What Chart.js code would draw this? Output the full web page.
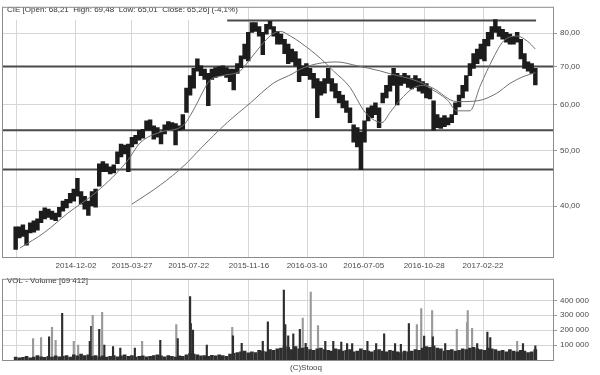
<!DOCTYPE html>
<html>
<head>
<meta charset="utf-8">
<script src="https://cdn.jsdelivr.net/npm/chart.js@4/dist/chart.umd.min.js"></script>
<style>
body { margin: 0; background: #fff; width: 600px; height: 375px; overflow: hidden; position: relative; }
canvas { position: absolute; left: 0; }
#priceChart { top: 0; }
#volChart { top: 272px; }
</style>
</head>
<body>
<canvas id="priceChart" width="600" height="272"></canvas>
<canvas id="volChart" width="600" height="103"></canvas>
<script>
// x axis is in trading sessions, one price bar per week (5 sessions)
const xMin = -17.4, xMax = 739.3;
const weekStep = 5;
const tickSessions = [0.5, 83, 160, 238, 321, 401, 479, 562, 643];
const tickLabels = ['', '2014-12-02', '2015-03-27', '2015-07-22', '2015-11-16', '2016-03-10', '2016-07-05', '2016-10-28', '2017-02-22'];
const priceTicks = [40, 50, 60, 70, 80];
const volTicks = [100000, 200000, 300000, 400000];

const titleText = 'CIE [Open: 68,21  High: 69,48  Low: 65,01  Close: 65,26] (-4,1%)';
const volTitle = 'VOL - Volume [69 412]';

// weekly high / low
const priceHigh = [
  36.8,36.8,37.1,36.3,37.4,37.7,38.0,39.2,39.7,39.5,39.2,38.9,
  39.8,40.8,41.1,42.1,42.8,44.7,42.4,41.6,40.8,42.4,42.8,47.4,
  47.8,47.4,46.8,47.2,49.7,51.3,51.1,51.3,52.7,53.1,54.2,54.4,
  56.3,56.5,55.2,54.8,53.8,55.4,56.1,55.9,55.7,55.2,57.7,64.2,
  67.5,69.5,72.2,70.2,69.3,68.1,69.3,69.7,70.0,70.2,69.7,69.3,
  69.3,70.8,73.1,76.6,80.3,83.5,83.5,82.2,80.3,82.9,83.9,82.2,
  80.6,79.7,78.1,76.6,75.1,74.3,72.2,70.2,70.8,69.5,68.1,66.7,
  65.9,66.7,69.5,66.7,65.4,63.4,62.4,61.0,59.3,55.4,54.8,53.8,
  56.3,59.3,59.8,60.5,59.3,62.9,64.9,67.5,69.5,68.1,67.5,68.1,
  67.5,66.7,67.5,66.7,65.9,65.4,64.2,61.0,57.7,57.0,57.5,57.0,
  57.7,60.5,62.4,64.9,67.5,70.8,73.7,75.1,76.6,78.1,80.3,82.2,
  84.5,82.2,81.3,80.3,79.7,79.0,80.3,78.1,73.7,71.3,70.8,69.5
];
const priceLow = [
  33.6,35.2,35.4,34.2,35.9,36.0,36.3,37.4,38.0,38.2,37.9,37.7,
  38.3,39.2,39.7,40.5,40.8,41.6,40.3,39.5,38.5,40.0,39.8,43.3,
  45.9,45.9,45.5,45.7,47.4,48.7,49.3,45.9,50.7,51.3,52.1,52.5,
  54.2,54.2,52.3,52.7,51.3,53.4,54.2,54.2,51.1,54.2,54.4,58.2,
  62.4,64.2,68.7,67.5,66.5,59.8,66.5,67.0,67.5,67.5,67.0,65.9,
  63.7,68.1,69.7,72.2,71.6,80.3,80.6,79.1,73.4,79.7,81.3,79.1,
  76.6,76.6,73.7,70.8,71.3,70.2,65.9,67.5,67.5,66.5,64.2,57.0,
  62.4,62.9,65.4,63.4,61.7,60.5,59.3,58.2,55.9,51.7,50.7,46.3,
  51.7,56.3,57.0,57.7,54.8,60.5,61.7,63.4,64.9,60.0,64.9,65.4,
  64.4,64.0,64.4,63.4,62.9,61.7,61.5,54.2,54.8,54.6,55.0,55.4,
  55.9,57.7,59.5,61.7,63.4,67.5,69.5,70.8,72.2,71.6,76.0,78.1,
  80.3,79.0,78.1,77.2,76.6,76.6,77.2,72.2,69.5,68.7,68.1,65.0
];

// moving averages
const maShortSessions = [6, 40, 71, 112, 153, 171, 199, 230, 244, 258, 267, 285, 309, 323, 336, 353, 364, 378, 391, 419, 437, 460, 478, 490, 504, 515, 529, 547, 561, 574, 594, 607, 625, 639, 657, 671, 690, 704, 715];
const maShortValues = [33.8, 36.0, 38.8, 42.4, 47.8, 51.5, 53.8, 55.2, 58.6, 63.4, 66.2, 67.5, 68.8, 72.2, 75.7, 79.7, 80.6, 79.1, 77.2, 72.4, 68.8, 64.4, 58.9, 56.8, 55.9, 58.2, 61.2, 64.2, 64.9, 63.7, 61.2, 58.6, 58.6, 64.7, 72.4, 77.5, 79.1, 77.5, 75.1];
const maLongSessions = [160, 199, 233, 254, 291, 323, 354, 382, 391, 415, 442, 470, 501, 519, 547, 574, 607, 635, 662, 680, 698, 715];
const maLongValues = [40.3, 43.5, 47.2, 50.3, 55.9, 60.5, 65.4, 68.1, 69.2, 70.8, 71.3, 70.2, 68.8, 67.8, 66.4, 64.2, 60.8, 61.0, 62.9, 65.4, 67.2, 68.3];

// horizontal levels
const levelValues = [84.2, 70.0, 54.2, 46.3];
const levelFrom = [291, xMin, xMin, xMin];
const levelTo = [716, xMax, xMax, xMax];

// volume: weekly base (thousands) and single-session spikes
const volBase = [
  20,15,18,25,15,20,30,22,18,25,20,28,
  22,25,30,20,35,28,40,30,35,25,30,22,
  28,20,25,30,22,28,35,25,30,20,25,28,
  22,25,30,35,28,22,30,25,20,28,25,35,
  45,40,35,28,30,25,32,28,35,30,25,40,
  45,50,55,60,48,55,50,65,60,55,70,65,
  75,80,95,85,70,90,75,80,85,70,65,75,
  80,70,65,60,75,70,60,65,70,55,60,75,
  65,60,55,65,70,60,55,65,60,55,50,60,
  55,60,70,65,80,90,85,95,80,75,60,65,
  70,60,65,75,70,80,85,75,70,65,80,75,
  70,60,65,55,70,60,55,65,60,50,55,70
];
const spikeSession = [24, 35, 46, 50, 55, 64, 80, 86, 102, 104, 106, 115, 119, 122, 134, 144, 164, 174, 199, 221, 223, 240, 241, 244, 263, 298, 299, 311, 340, 347, 369, 371, 375, 382, 391, 395, 399, 406, 416, 426, 437, 448, 456, 463, 484, 496, 507, 522, 530, 541, 552, 558, 562, 573, 574, 591, 607, 621, 622, 628, 635, 649, 653, 690, 698, 715];
const spikeVolume = [144, 150, 156, 219, 131, 312, 125, 100, 125, 225, 300, 206, 319, 100, 90, 80, 80, 125, 131, 237, 144, 425, 244, 200, 100, 219, 162, 112, 125, 256, 469, 237, 162, 175, 206, 281, 112, 456, 231, 125, 125, 120, 110, 110, 125, 110, 175, 110, 105, 244, 237, 344, 160, 331, 155, 110, 206, 250, 331, 212, 110, 187, 150, 125, 110, 95];
const spikeUp = [0, 0, 1, 0, 0, 1, 0, 0, 1, 1, 0, 1, 0, 1, 1, 1, 1, 0, 1, 0, 1, 1, 1, 1, 1, 0, 1, 1, 1, 1, 1, 1, 1, 1, 1, 0, 1, 0, 0, 1, 1, 1, 1, 1, 1, 1, 1, 1, 1, 1, 0, 0, 1, 0, 1, 1, 0, 0, 0, 0, 1, 1, 1, 0, 1, 1];

Chart.defaults.font.family = '"Liberation Sans", Arial, sans-serif';
Chart.defaults.font.size = 8;
Chart.defaults.color = '#4a4a4a';

const gridColor = '#d6d6d6';

function xScale(showLabels) {
  return {
    type: 'linear', min: xMin, max: xMax, offset: false,
    afterBuildTicks: s => { s.ticks = tickSessions.map(v => ({ value: v })); },
    afterFit: s => { s.height = 15; },
    grid: { color: gridColor, drawTicks: false, offset: false },
    border: { display: false },
    ticks: { display: showLabels, autoSkip: false, maxRotation: 0, padding: 4, callback: (v, i) => tickLabels[i] }
  };
}

function frame(chart) {
  const { ctx, chartArea: a } = chart;
  ctx.save();
  ctx.strokeStyle = '#8c8c8c';
  ctx.lineWidth = 1;
  ctx.strokeRect(a.left - 0.5, a.top - 0.5, a.right - a.left + 1, a.bottom - a.top + 1);
  ctx.restore();
}

const pricePlugin = {
  id: 'priceDecor',
  beforeDatasetsDraw(chart) {
    const { ctx, chartArea: a } = chart;
    ctx.save();
    ctx.fillStyle = '#fff';
    ctx.fillRect(a.left, a.top, 244, 12);
    ctx.fillStyle = '#333';
    ctx.font = '8px "Liberation Sans", Arial, sans-serif';
    ctx.textBaseline = 'middle';
    ctx.fillText(titleText, 7, 10);
    ctx.restore();
  },
  afterDraw: frame
};

const volPlugin = {
  id: 'volDecor',
  beforeDatasetsDraw(chart) {
    const { ctx } = chart;
    ctx.save();
    ctx.fillStyle = '#333';
    ctx.font = '8px "Liberation Sans", Arial, sans-serif';
    ctx.textBaseline = 'middle';
    ctx.fillText(volTitle, 7, 9);
    ctx.restore();
  },
  afterDraw(chart) {
    frame(chart);
    const { ctx } = chart;
    ctx.save();
    ctx.fillStyle = '#444';
    ctx.font = '8px "Liberation Sans", Arial, sans-serif';
    ctx.textAlign = 'center';
    ctx.textBaseline = 'middle';
    ctx.fillText('(C)Stooq', 306, 96);
    ctx.restore();
  }
};

const levelSets = levelValues.map((v, i) => ({
  type: 'line',
  data: [{ x: levelFrom[i], y: v }, { x: levelTo[i], y: v }],
  borderColor: '#4a4a4a', borderWidth: 2, pointRadius: 0, order: 3
}));

new Chart(document.getElementById('priceChart'), {
  type: 'bar',
  data: {
    datasets: [
      {
        type: 'bar',
        data: priceHigh.map((h, i) => ({ x: i * weekStep, y: [priceLow[i], h] })),
        backgroundColor: '#1c1c1c', barThickness: 3.8, grouped: false, order: 2
      },
      {
        type: 'line',
        data: maShortSessions.map((s, i) => ({ x: s, y: maShortValues[i] })),
        borderColor: '#707070', borderWidth: 1, pointRadius: 0, cubicInterpolationMode: 'monotone', order: 1
      },
      {
        type: 'line',
        data: maLongSessions.map((s, i) => ({ x: s, y: maLongValues[i] })),
        borderColor: '#707070', borderWidth: 1, pointRadius: 0, cubicInterpolationMode: 'monotone', order: 1
      },
      ...levelSets
    ]
  },
  options: {
    responsive: false, animation: false,
    layout: { padding: { left: 3, top: 3, right: 0, bottom: 0 } },
    plugins: { legend: { display: false }, tooltip: { enabled: false } },
    scales: {
      x: xScale(true),
      y: {
        type: 'logarithmic', position: 'right', min: 32.6, max: 88.6,
        afterBuildTicks: s => { s.ticks = priceTicks.map(v => ({ value: v })); },
        afterFit: s => { s.width = 47; },
        grid: { color: gridColor, tickLength: 4, tickColor: '#999' },
        border: { display: false },
        ticks: { padding: 3, callback: v => v.toFixed(2).replace('.', ',') }
      }
    }
  },
  plugins: [pricePlugin]
});

new Chart(document.getElementById('volChart'), {
  type: 'bar',
  data: {
    datasets: [
      {
        data: volBase.map((v, i) => ({ x: i * weekStep, y: v * 1000 })),
        backgroundColor: '#2e2e2e', barThickness: 3, grouped: false, order: 1
      },
      {
        data: spikeSession.map((s, i) => ({ x: s, y: spikeVolume[i] * 1000 })),
        backgroundColor: spikeUp.map(u => u ? '#2e2e2e' : '#9a9a9a'),
        barThickness: 1.5, grouped: false, order: 2
      }
    ]
  },
  options: {
    responsive: false, animation: false,
    layout: { padding: { left: 3, top: 2, right: 0, bottom: 0 } },
    plugins: { legend: { display: false }, tooltip: { enabled: false } },
    scales: {
      x: xScale(false),
      y: {
        position: 'right', min: 0, max: 537500,
        afterBuildTicks: s => { s.ticks = volTicks.map(v => ({ value: v })); },
        afterFit: s => { s.width = 47; },
        grid: { color: gridColor, tickLength: 4, tickColor: '#999' },
        border: { display: false },
        ticks: { padding: 3, callback: v => (v / 1000) + ' 000' }
      }
    }
  },
  plugins: [volPlugin]
});
</script>
</body>
</html>
